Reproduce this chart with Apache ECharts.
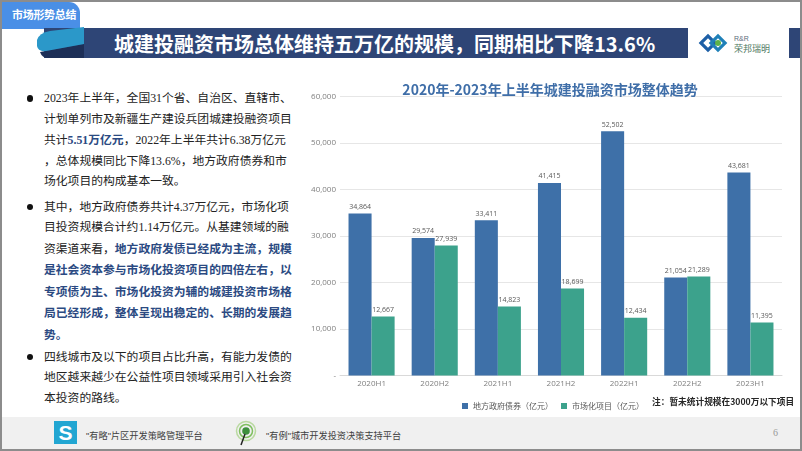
<!DOCTYPE html>
<html><head><meta charset="utf-8">
<script src="https://cdn.jsdelivr.net/npm/echarts/dist/echarts.min.js"></script>
<style>
html,body{margin:0;padding:0;background:#fff;}
#slide{position:relative;width:802px;height:451px;overflow:hidden;background:#fff;font-family:"Noto Sans CJK SC",sans-serif;}
.abs{position:absolute;}
#frame{left:0;top:0;width:802px;height:451px;box-sizing:border-box;border:2px solid #8c8c8c;z-index:10;pointer-events:none;}
#tab{left:0;top:2px;width:80px;height:27px;background:#4a8fe6;border-top-right-radius:11px;}
#tabtxt{left:12px;top:6px;font-size:11px;color:#fff;font-weight:bold;letter-spacing:-0.3px;}
#titlebar{left:44px;top:28px;width:644px;height:30px;background:#2e4576;}
#titletxt{left:114px;top:30px;font-size:20px;line-height:28px;color:#fff;font-weight:bold;white-space:nowrap;}
#rightbar{left:789px;top:28px;width:13px;height:30px;background:#2e4576;}
.para{left:44px;font-size:11.8px;line-height:20.6px;color:#222;white-space:nowrap;font-family:"Liberation Serif","Noto Sans CJK SC",serif;}
.para b{color:#2b4a82;font-weight:bold;font-family:"Noto Sans CJK SC",sans-serif;}
.para b.num{font-family:"Liberation Serif","Noto Sans CJK SC",serif;}
.dot{width:6.5px;height:6.5px;border-radius:50%;background:#111;left:26.5px;}
#footer{left:0;top:417px;width:802px;height:34px;background:#f0f0f0;}
.ftxt{font-size:9.2px;color:#404040;top:428px;white-space:nowrap;font-family:"Liberation Sans","Noto Sans CJK SC",sans-serif;}
#chart{left:300px;top:70px;width:500px;height:345px;}
</style></head>
<body>
<div id="slide">
  <div id="footer" class="abs"></div>
  <div id="tab" class="abs"></div>
  <div id="tabtxt" class="abs">市场形势总结</div>
  <div id="titlebar" class="abs"></div>
  <svg class="abs" style="left:0;top:0" width="120" height="70">
    <path d="M40 52 L84 44 L84 58 L48 58 Q42 58 40 52 Z" fill="#1d2f57"/>
    <path d="M37 40 Q39 33 50 31 L84 27 L84 44 L46 51 Q38 52 37 46 Z" fill="#2b98c9"/>
  </svg>
  <div id="titletxt" class="abs">城建投融资市场总体维持五万亿的规模，同期相比下降13.6%</div>
  <svg class="abs" style="left:698px;top:30px" width="80" height="28">
    <g transform="translate(10,13) rotate(45)">
      <rect x="-5" y="-5" width="10" height="10" fill="none" stroke="#1d5fa6" stroke-width="3.2"/>
    </g>
    <g transform="translate(20,13) rotate(45)">
      <rect x="-5" y="-5" width="10" height="10" fill="none" stroke="#1f80b8" stroke-width="3.2"/>
    </g>
    <circle cx="20" cy="13" r="3" fill="#5bb24a"/>
    <text x="36" y="11" font-size="7" fill="#5c6b7a" font-family="Liberation Sans">R&amp;R</text>
    <text x="36" y="22" font-size="9" fill="#4f7a63" font-family="Noto Sans CJK SC">荣邦瑞明</text>
  </svg>
  <div id="rightbar" class="abs"></div>

  <div class="abs dot" style="top:95px"></div>
  <div class="abs para" style="top:88px">2023年上半年，全国31个省、自治区、直辖市、<br>计划单列市及新疆生产建设兵团城建投融资项目<br>共计<b class="num">5.51</b><b>万亿元</b>，2022年上半年共计6.38万亿元<br>，总体规模同比下降13.6%，地方政府债券和市<br>场化项目的构成基本一致。</div>

  <div class="abs dot" style="top:203.5px"></div>
  <div class="abs para" style="top:196.5px">其中，地方政府债券共计4.37万亿元，市场化项<br>目投资规模合计约1.14万亿元。从基建领域的融<br>资渠道来看，<b>地方政府发债已经成为主流，规模</b><br><b>是社会资本参与市场化投资项目的四倍左右，以</b><br><b>专项债为主、市场化投资为辅的城建投资市场格</b><br><b>局已经形成，整体呈现出稳定的、长期的发展趋</b><br><b>势。</b></div>

  <div class="abs dot" style="top:353.5px"></div>
  <div class="abs para" style="top:346.5px">四线城市及以下的项目占比升高，有能力发债的<br>地区越来越少在公益性项目领域采用引入社会资<br>本投资的路线。</div>

  <div id="chart" class="abs"></div>

  <svg class="abs" style="left:53px;top:420px" width="26" height="26">
    <rect x="1" y="1" width="23" height="23" fill="#22a6d2"/>
    <text x="12.5" y="20" text-anchor="middle" font-size="21" font-weight="bold" fill="#fff" font-family="Liberation Sans">S</text>
  </svg>
  <div class="abs ftxt" style="left:86px">"有略"片区开发策略管理平台</div>
  <svg class="abs" style="left:233px;top:420px" width="26" height="28">
    <circle cx="13" cy="11" r="9.5" fill="none" stroke="#b9d9a0" stroke-width="1.5"/>
    <circle cx="13" cy="11" r="6.5" fill="none" stroke="#7fbf5f" stroke-width="1.5"/>
    <circle cx="13" cy="11" r="3.8" fill="#3d8f3d"/>
    <line x1="12" y1="14" x2="8" y2="25" stroke="#222" stroke-width="1.5"/>
  </svg>
  <div class="abs ftxt" style="left:266px">"有例"城市开发投资决策支持平台</div>
  <div class="abs" style="left:773px;top:427px;font-size:10px;color:#999;font-family:'Liberation Serif',serif">6</div>
  <div id="frame" class="abs"></div>
</div>
<script>
const categories = ['2020H1', '2020H2', '2021H1', '2021H2', '2022H1', '2022H2', '2023H1'];
const bondValues = [34864, 29574, 33411, 41415, 52502, 21054, 43681];
const marketValues = [12667, 27939, 14823, 18699, 12434, 21289, 11395];
const seriesNames = ['地方政府债券（亿元）', '市场化项目（亿元）'];
const chartTitle = '2020年-2023年上半年城建投融资市场整体趋势';
const noteText = '注：暂未统计规模在3000万以下项目';

const fmt = v => Number(v).toLocaleString('en-US');
const chart = echarts.init(document.getElementById('chart'), null, {renderer: 'canvas'});
const labelCfg = {show: true, position: 'top', distance: 3, fontSize: 7, color: '#595959',
  formatter: p => fmt(p.value)};
chart.setOption({
  animation: false,
  textStyle: {fontFamily: "'Open Sans','Noto Sans CJK SC',sans-serif"},
  title: {text: chartTitle, left: 'center', top: 8,
    textStyle: {fontSize: 14, fontWeight: 'bold', color: '#3f6ea8', fontFamily: 'Noto Sans CJK SC'}},
  grid: {left: 40, top: 26.5, width: 442, height: 279},
  legend: {left: 157, top: 327, itemWidth: 6, itemHeight: 6, itemGap: 8, icon: 'rect',
    textStyle: {fontSize: 8, color: '#595959', fontFamily: 'Noto Sans CJK SC'}},
  graphic: [{type: 'text', left: 352, top: 327,
    style: {text: noteText, fontSize: 8.7, fontWeight: 'bold', fill: '#262626', fontFamily: 'Noto Sans CJK SC'}}],
  xAxis: {type: 'category', data: categories,
    axisLine: {lineStyle: {color: '#d9d9d9'}}, axisTick: {show: false},
    axisLabel: {fontSize: 8, color: '#7f7f7f', margin: 4}},
  yAxis: {type: 'value', min: 0, max: 60000, interval: 10000,
    axisLine: {show: false}, axisTick: {show: false},
    axisLabel: {fontSize: 8, color: '#7f7f7f', margin: 4, formatter: v => v === 0 ? '-' : fmt(v)},
    splitLine: {lineStyle: {color: '#e6e6e6'}}},
  series: [
    {name: seriesNames[0], type: 'bar', data: bondValues, barGap: '0%', barCategoryGap: '27%',
      itemStyle: {color: '#3e70a8'}, label: labelCfg},
    {name: seriesNames[1], type: 'bar', data: marketValues, barGap: '0%', barCategoryGap: '27%',
      itemStyle: {color: '#3ca28c'}, label: labelCfg}
  ]
});
</script>
</body></html>
